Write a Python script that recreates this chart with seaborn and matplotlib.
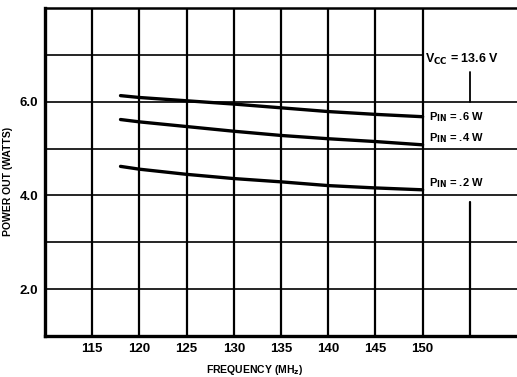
import matplotlib
matplotlib.use("Agg")
import matplotlib.pyplot as plt
import seaborn as sns
import pandas as pd

# ---- data ----
freq_mhz = [118, 120, 125, 130, 135, 140, 145, 150]
pout_06w = [6.13, 6.09, 6.02, 5.95, 5.87, 5.79, 5.73, 5.68]
pout_04w = [5.62, 5.57, 5.47, 5.37, 5.28, 5.21, 5.15, 5.08]
pout_02w = [4.62, 4.56, 4.45, 4.36, 4.29, 4.21, 4.16, 4.12]
series_names = ["P_IN = .6 W", "P_IN = .4 W", "P_IN = .2 W"]
series_labels = [r"P$_{\rm IN}$ = .6 W", r"P$_{\rm IN}$ = .4 W", r"P$_{\rm IN}$ = .2 W"]
x_grid = [115, 120, 125, 130, 135, 140, 145, 150]
x_tick_labels = ["115", "120", "125", "130", "135", "140", "145", "150"]
y_grid = [2, 3, 4, 5, 6]
y_tick_vals = [2, 4, 6]
y_tick_labels = ["2.0", "4.0", "6.0"]
vcc_label = r"V$_{\rm CC}$ = 13.6 V"

sns.set_style("white")
FAM = ["Liberation Sans Narrow", "Liberation Sans", "DejaVu Sans"]
plt.rcParams["font.family"] = FAM
plt.rcParams["font.weight"] = "bold"
plt.rcParams["text.color"] = "black"
plt.rcParams["axes.labelcolor"] = "black"
plt.rcParams["xtick.color"] = "black"
plt.rcParams["ytick.color"] = "black"
plt.rcParams["mathtext.fontset"] = "custom"
plt.rcParams["mathtext.rm"] = "Liberation Sans Narrow:bold"
plt.rcParams["mathtext.it"] = "Liberation Sans Narrow:bold"
plt.rcParams["mathtext.bf"] = "Liberation Sans Narrow:bold"

df = pd.DataFrame({
    "freq": freq_mhz * 3,
    "pout": pout_06w + pout_04w + pout_02w,
    "series": [s for s in series_names for _ in freq_mhz],
})

fig = plt.figure(figsize=(5.17, 3.77), dpi=100)
ax = fig.add_axes([45 / 517, 1 - 336 / 377, 1 - 45 / 517, 328 / 377])

ax.set_xlim(110, 160)
ax.set_ylim(1, 8)

# grid
for gx in x_grid:
    ax.axvline(gx, color="black", lw=1.6, zorder=1)
ax.axvline(155, ymin=0, ymax=(3.86 - 1) / 7, color="black", lw=1.6, zorder=1)
ax.axvline(155, ymin=(6 - 1) / 7, ymax=(6.64 - 1) / 7, color="black", lw=1.3, zorder=1)
for gy in y_grid:
    ax.axhline(gy, color="black", lw=1.2, zorder=1)
ax.axhline(7, xmin=0, xmax=(150 - 110) / 50, color="black", lw=1.2, zorder=1)

sns.lineplot(data=df, x="freq", y="pout", hue="series",
             palette=["black", "black", "black"], legend=False,
             lw=2.4, ax=ax, zorder=3)

ax.set_xticks(x_grid)
ax.set_xticklabels(x_tick_labels)
ax.set_yticks(y_tick_vals)
ax.set_yticklabels(y_tick_labels)
ax.tick_params(axis="both", length=2, width=1, pad=3, labelsize=9.5, color="black",
               labelcolor="black")
for lab in ax.get_xticklabels() + ax.get_yticklabels():
    lab.set_fontweight("bold")

for side in ["left", "bottom"]:
    ax.spines[side].set_linewidth(2.4)
    ax.spines[side].set_color("black")
ax.spines["top"].set_linewidth(1.8)
ax.spines["top"].set_color("black")
ax.spines["right"].set_visible(False)

ax.set_xlabel("FREQUENCY (MH$_{\\rm z}$)", fontsize=7.5, fontweight="bold", va="center",
              color="black")
ax.set_ylabel("POWER OUT (WATTS)", fontsize=7.5, fontweight="bold", color="black")
ax.xaxis.set_label_coords(0.445, -0.105)
ax.yaxis.set_label_coords(-0.068, 0.47)

# annotations
label_y = [5.68, 5.23, 4.26]
for txt, yy in zip(series_labels, label_y):
    ax.text(150.7, yy, txt, fontsize=8, fontweight="bold", va="center", ha="left",
            color="black")
ax.text(150.3, 6.91, vcc_label, fontsize=9, fontweight="bold", va="center", ha="left",
        color="black")

fig.savefig("out.png", dpi=100)
